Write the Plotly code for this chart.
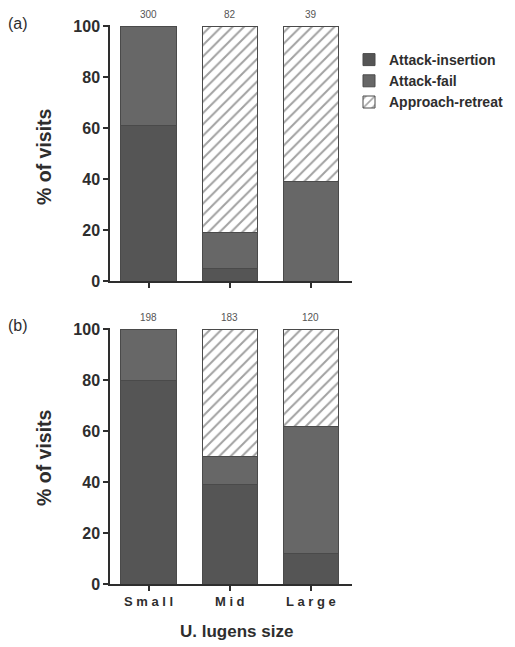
import plotly.graph_objects as go

categories = ["Small", "Mid", "Large"]
# Panel (a)
a_insertion = [61, 5, 0]
a_fail = [39, 14, 39]
a_retreat = [0, 81, 61]
a_counts = ["300", "82", "39"]
# Panel (b)
b_insertion = [80, 39, 12]
b_fail = [20, 11, 50]
b_retreat = [0, 50, 38]
b_counts = ["198", "183", "120"]

series_names = ["Attack-insertion", "Attack-fail", "Approach-retreat"]
x_pos = [0, 1, 2]

INS = "#555555"
FAIL = "#676767"
EDGE = "#4a4a4a"
TXT = "#2e2e2e"
FONT = "Liberation Sans, Arial, sans-serif"

# page body margin offsets the figure by 8px; size the figure to fit the window
OFF = 8
W = 515 - OFF
H = 647 - OFF


def fx(p):
    return (p - OFF) / W


def fy(p):
    return 1 - (p - OFF) / H


fig = go.Figure()


def add_panel(ins, fail, ret, xa, ya, show):
    fig.add_trace(go.Bar(x=x_pos, y=ins, name=series_names[0], marker=dict(color=INS, line=dict(color=EDGE, width=1)),
                         width=0.68, xaxis=xa, yaxis=ya, showlegend=show, legendgroup="i"))
    fig.add_trace(go.Bar(x=x_pos, y=fail, name=series_names[1], marker=dict(color=FAIL, line=dict(color=EDGE, width=1)),
                         width=0.68, xaxis=xa, yaxis=ya, showlegend=show, legendgroup="f"))
    fig.add_trace(go.Bar(x=x_pos, y=ret, name=series_names[2],
                         marker=dict(color="white", line=dict(color=EDGE, width=1),
                                     pattern=dict(shape="/", fgcolor="#444444", bgcolor="white", size=8, solidity=0.25)),
                         width=0.68, xaxis=xa, yaxis=ya, showlegend=show, legendgroup="r"))


add_panel(a_insertion, a_fail, a_retreat, "x", "y", True)
add_panel(b_insertion, b_fail, b_retreat, "x2", "y2", False)

xdom = [fx(110), fx(352)]
ydom_a = [fy(281), fy(25)]
ydom_b = [fy(584), fy(328)]

common_y = dict(range=[0, 100.5], tickvals=[0, 20, 40, 60, 80, 100], ticks="outside", ticklen=5, tickwidth=1.5,
                tickcolor=TXT, showline=True, linecolor=TXT, linewidth=1.5, showgrid=False, zeroline=False,
                automargin=False, tickfont=dict(family=FONT, size=16, color=TXT, weight="bold"))
common_x = dict(range=[-0.475, 2.506], tickvals=x_pos, ticks="outside", ticklen=5, tickwidth=1.5, tickcolor=TXT,
                showline=True, linecolor=TXT, linewidth=1.5, showgrid=False, zeroline=False, automargin=False)

fig.update_layout(
    width=W, height=H, margin=dict(l=0, r=0, t=0, b=0, pad=0, autoexpand=False),
    paper_bgcolor="white", plot_bgcolor="white", barmode="stack",
    xaxis=dict(domain=xdom, anchor="y", showticklabels=False, **common_x),
    yaxis=dict(domain=ydom_a, anchor="x", **common_y),
    xaxis2=dict(domain=xdom, anchor="y2", ticktext=[" ".join(c) for c in categories], showticklabels=True,
                tickfont=dict(family=FONT, size=13, color=TXT, weight="bold"), **common_x),
    yaxis2=dict(domain=ydom_b, anchor="x2", **common_y),
    legend=dict(x=fx(349), y=fy(44), xanchor="left", yanchor="top", traceorder="normal",
                font=dict(family=FONT, size=14, color=TXT, weight="bold"), itemwidth=30, tracegroupgap=0,
                bgcolor="rgba(0,0,0,0)"),
    showlegend=True,
)

anns = []
for i, c in enumerate(a_counts):
    anns.append(dict(x=x_pos[i], y=100, xref="x", yref="y", text=c, showarrow=False, yanchor="bottom", yshift=4,
                     font=dict(family=FONT, size=10, color="#555")))
for i, c in enumerate(b_counts):
    anns.append(dict(x=x_pos[i], y=100, xref="x2", yref="y2", text=c, showarrow=False, yanchor="bottom", yshift=4,
                     font=dict(family=FONT, size=10, color="#555")))
anns += [
    dict(x=fx(6), y=fy(23), xref="paper", yref="paper", text="(a)", showarrow=False, xanchor="left",
         yanchor="middle", font=dict(family=FONT, size=16, color=TXT)),
    dict(x=fx(6), y=fy(325), xref="paper", yref="paper", text="(b)", showarrow=False, xanchor="left",
         yanchor="middle", font=dict(family=FONT, size=16, color=TXT)),
    dict(x=fx(44), y=fy(157), xref="paper", yref="paper", text="% of visits", showarrow=False,
         xanchor="center", yanchor="middle", textangle=-90, font=dict(family=FONT, size=19.5, color=TXT, weight="bold")),
    dict(x=fx(44), y=fy(458), xref="paper", yref="paper", text="% of visits", showarrow=False,
         xanchor="center", yanchor="middle", textangle=-90, font=dict(family=FONT, size=19.5, color=TXT, weight="bold")),
    dict(x=fx(236), y=fy(631), xref="paper", yref="paper", text="U. lugens size", showarrow=False,
         xanchor="center", yanchor="middle", font=dict(family=FONT, size=17, color=TXT, weight="bold")),
]
fig.update_layout(annotations=anns)

fig.write_html("out.html")
